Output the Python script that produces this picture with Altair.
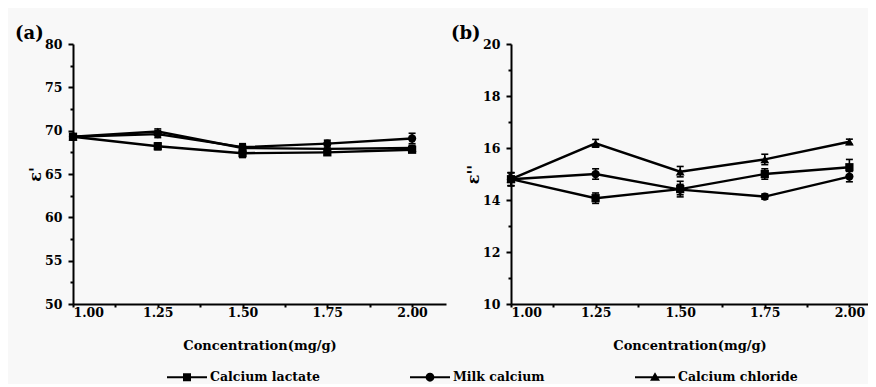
import altair as alt
import pandas as pd

conc = [1.00, 1.25, 1.50, 1.75, 2.00]
conc_minor = [1.125, 1.375, 1.625, 1.875]
series = ["Calcium lactate", "Milk calcium", "Calcium chloride"]
marker_shapes = ["square", "circle", "triangle-up"]

# Panel (a): epsilon'
a_lactate = [69.3, 68.2, 67.4, 67.5, 67.8]
a_lactate_err = [0.3, 0.4, 0.5, 0.3, 0.3]
a_milk = [69.3, 69.6, 68.1, 68.5, 69.1]
a_milk_err = [0.3, 0.4, 0.4, 0.4, 0.6]
a_chloride = [69.3, 69.9, 68.0, 67.9, 68.0]
a_chloride_err = [0.3, 0.3, 0.4, 0.4, 0.3]

# Panel (b): epsilon''
b_lactate = [14.8, 14.07, 14.42, 15.0, 15.26]
b_lactate_err = [0.25, 0.2, 0.3, 0.2, 0.3]
b_milk = [14.8, 15.0, 14.4, 14.13, 14.9]
b_milk_err = [0.25, 0.2, 0.2, 0.1, 0.2]
b_chloride = [14.8, 16.18, 15.09, 15.56, 16.24]
b_chloride_err = [0.25, 0.15, 0.2, 0.2, 0.1]

a_yticks = [50, 55, 60, 65, 70, 75, 80]
a_yminor = [52.5, 57.5, 62.5, 67.5, 72.5, 77.5]
b_yticks = [10, 12, 14, 16, 18, 20]
b_yminor = [11, 13, 15, 17, 19]

FONT = "DejaVu Serif"


def frame(vals, errs):
    rows = []
    for name, v, e in zip(series, vals, errs):
        for c, vi, ei in zip(conc, v, e):
            rows.append({"conc": c, "value": vi, "lo": vi - ei, "hi": vi + ei, "series": name})
    return pd.DataFrame(rows)


df_a = frame([a_lactate, a_milk, a_chloride], [a_lactate_err, a_milk_err, a_chloride_err])
df_b = frame([b_lactate, b_milk, b_chloride], [b_lactate_err, b_milk_err, b_chloride_err])

# legend symbols: a short line with the marker in the middle (filled paths)
LINE = "M-2,-0.1H2V0.1H-2Z"
legend_paths = [
    LINE + "M-0.4,-0.4H0.4V0.4H-0.4Z",
    LINE + "M0.44,0A0.44,0.44,0,1,1,-0.44,0A0.44,0.44,0,1,1,0.44,0Z",
    LINE + "M0,-0.5L0.5,0.34H-0.5Z",
]


def panel(df, ydomain, yticks, yminor, ytitle, label, width, xmax, ldx, with_legend):
    xaxis = alt.Axis(values=conc, format=".2f", title="Concentration(mg/g)", orient="bottom",
                     tickSize=3, labelPadding=-1, titlePadding=21)
    yaxis = alt.Axis(values=yticks, title=ytitle, orient="left", tickSize=5, labelPadding=6,
                     titlePadding=1, titleFontSize=16)
    xminor = alt.Axis(values=conc_minor, orient="bottom", title=None, labels=False,
                      domain=False, tickSize=3)
    yminor_ax = alt.Axis(values=yminor, orient="left", title=None, labels=False,
                         domain=False, tickSize=3)
    xs = alt.Scale(domain=[1, xmax], nice=False)
    ys = alt.Scale(domain=ydomain, nice=False)
    base = alt.Chart(df)
    Xn = alt.X("conc:Q", scale=xs, axis=None)

    layers = [
        base.mark_rule(color="black", strokeWidth=1.6).encode(
            x=Xn, y=alt.Y("lo:Q", scale=ys, axis=None), y2="hi:Q"
        ),
        base.mark_tick(orient="horizontal", size=7, thickness=1.6, color="black", opacity=1).encode(
            x=Xn, y=alt.Y("lo:Q", scale=ys, axis=None)
        ),
        base.mark_tick(orient="horizontal", size=7, thickness=1.6, color="black", opacity=1).encode(
            x=Xn, y=alt.Y("hi:Q", scale=ys, axis=None)
        ),
        base.mark_line(color="black", strokeWidth=2.4).encode(
            x=alt.X("conc:Q", scale=xs, axis=xaxis),
            y=alt.Y("value:Q", scale=ys, axis=yaxis),
            detail="series:N",
        ),
        base.transform_filter("datum.conc < 0").mark_point(opacity=0).encode(
            x=alt.X("conc:Q", scale=xs, axis=xminor),
            y=alt.Y("value:Q", scale=ys, axis=yminor_ax),
        ),
    ]
    for name, shp in zip(series, marker_shapes):
        layers.append(
            base.transform_filter(alt.datum.series == name)
            .mark_point(filled=True, color="black", size=68 if shp != "triangle-up" else 78, opacity=1)
            .encode(x=Xn, y=alt.Y("value:Q", scale=ys, axis=None), shape=alt.value(shp))
        )
    if with_legend:
        layers.append(
            base.transform_filter("datum.conc < 0")
            .mark_point(filled=True, color="black")
            .encode(
                x=Xn,
                y=alt.Y("value:Q", scale=ys, axis=None),
                shape=alt.Shape(
                    "series:N",
                    scale=alt.Scale(domain=series, range=legend_paths),
                    legend=alt.Legend(
                        title=None,
                        orient="none",
                        direction="horizontal",
                        legendX=104,
                        legendY=323,
                        symbolSize=400,
                        symbolOpacity=1,
                        symbolStrokeWidth=0,
                        symbolFillColor="black",
                        labelOffset=13,
                        columnPadding=90,
                        labelFont=FONT,
                        labelFontSize=12.5,
                        labelFontWeight="bold",
                        labelColor="black",
                    ),
                ),
            )
        )
    return (
        alt.layer(*layers)
        .resolve_axis(x="independent", y="independent")
        .properties(
            width=width,
            height=260,
            title=alt.TitleParams(
                label, anchor="start", frame="group", dx=ldx, offset=-5,
                font=FONT, fontSize=18, fontWeight="bold", color="black",
            ),
        )
    )


pa = panel(df_a, [50, 80], a_yticks, a_yminor, "ε'", "(a)", 373, 2.1, -58, True)
pb = panel(df_b, [10, 20], b_yticks, b_yminor, "ε''", "(b)", 357, 2.055, -60, False)

chart = (
    alt.hconcat(pa, pb, spacing=5)
    .properties(background="#f8f8f8", padding={"left": 7, "top": 17, "right": 0, "bottom": 0})
    .configure(font=FONT)
    .configure_view(stroke=None)
    .configure_axis(
        grid=False,
        domainColor="black",
        domainWidth=2,
        tickColor="black",
        tickWidth=2,
        labelFont=FONT,
        labelFontSize=12.5,
        labelFontWeight="bold",
        labelColor="black",
        titleFont=FONT,
        titleFontSize=13,
        titleFontWeight="bold",
        titleColor="black",
    )
)

chart.save("out.html", embed_options={"renderer": "svg", "actions": False})
